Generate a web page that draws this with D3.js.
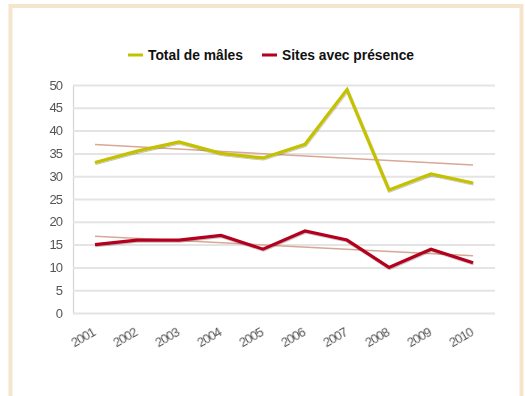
<!DOCTYPE html>
<html>
<head>
<meta charset="utf-8">
<script src="https://cdn.jsdelivr.net/npm/d3@7"></script>
<style>
  html, body { margin: 0; padding: 0; background: #ffffff; }
  svg { display: block; }
</style>
</head>
<body>
<svg id="chart" width="525" height="396"></svg>
<script>
// Annual counts, 2001–2010
const years = ["2001","2002","2003","2004","2005","2006","2007","2008","2009","2010"];
const totalMales = [33, 35.5, 37.5, 35, 34, 37, 49, 27, 30.5, 28.5];
const sitesPresence = [15, 16, 16, 17, 14, 18, 16, 10, 14, 11];
const yTicks = [0, 5, 10, 15, 20, 25, 30, 35, 40, 45, 50];
const seriesNames = ["Total de mâles", "Sites avec présence"];
const seriesColors = ["#c4c200", "#b3001f"];

const svg = d3.select("#chart");
const plot = { left: 73, right: 495, top: 85, bottom: 313 };

// frame
svg.append("rect")
  .attr("x", 10.5).attr("y", 6).attr("width", 511).attr("height", 400)
  .attr("fill", "#ffffff").attr("stroke", "#f4e5cc").attr("stroke-width", 4);

const x = d3.scaleBand().domain(years).range([plot.left + 1, plot.right - 1]);
const y = d3.scaleLinear().domain([0, 50]).range([plot.bottom, plot.top]);
const cx = d => x(d) + x.bandwidth() / 2;

const tickFont = "'Liberation Sans', Arial, sans-serif";

// gridlines and y labels
const yAxis = d3.axisLeft(y).tickValues(yTicks).tickSize(-(plot.right - plot.left)).tickPadding(11);
const gy = svg.append("g").attr("transform", `translate(${plot.left},0)`).call(yAxis);
gy.select(".domain").attr("stroke", "#d4d4d4").attr("stroke-width", 1.2);
gy.selectAll(".tick line").attr("stroke", "#e4e4e4").attr("stroke-width", 2);
gy.selectAll(".tick text")
  .attr("fill", "#555").attr("font-family", tickFont)
  .attr("font-size", 13).attr("letter-spacing", -1)
  .style("filter", "blur(0.35px)");

// x labels, slanted
const xAxis = d3.axisBottom(x).tickSize(0).tickPadding(0);
const gx = svg.append("g").attr("transform", `translate(0,${plot.bottom})`).call(xAxis);
gx.select(".domain").remove();
gx.selectAll(".tick text")
  .attr("fill", "#555").attr("font-family", tickFont)
  .attr("font-size", 13).attr("letter-spacing", -1)
  .attr("text-anchor", "end")
  .attr("dy", 0)
  .attr("transform", "translate(1,22) rotate(-30)")
  .style("filter", "blur(0.35px)");

// linear trend of a series
function trend(vals) {
  const n = vals.length;
  const xs = vals.map((_, i) => i + 1);
  const mx = d3.mean(xs), my = d3.mean(vals);
  const b = d3.sum(xs.map((xi, i) => (xi - mx) * (vals[i] - my))) / d3.sum(xs.map(xi => (xi - mx) ** 2));
  const a = my - b * mx;
  return [[years[0], a + b * 1], [years[n - 1], a + b * n]];
}

const line = d3.line().x(d => cx(d[0])).y(d => y(d[1]));

[totalMales, sitesPresence].forEach(vals => {
  svg.append("path").datum(trend(vals))
    .attr("d", line).attr("fill", "none")
    .attr("stroke", "#d9a796").attr("stroke-width", 1.5);
});

const defs = svg.append("defs");
defs.append("filter").attr("id", "shadow").attr("x", "-5%").attr("y", "-5%").attr("width", "110%").attr("height", "120%")
  .append("feDropShadow").attr("dx", 0.5).attr("dy", 1).attr("stdDeviation", 0.6)
  .attr("flood-color", "#000").attr("flood-opacity", 0.25);

[totalMales, sitesPresence].forEach((vals, k) => {
  svg.append("path").datum(years.map((yr, i) => [yr, vals[i]]))
    .attr("d", line).attr("fill", "none")
    .attr("stroke", seriesColors[k]).attr("stroke-width", 3.2)
    .attr("stroke-linejoin", "miter")
    .attr("filter", "url(#shadow)");
});

// legend
const legendItems = [
  { x: 128, w: 95, name: seriesNames[0], color: seriesColors[0] },
  { x: 262, w: 132, name: seriesNames[1], color: seriesColors[1] }
];
const lg = svg.append("g");
legendItems.forEach(it => {
  lg.append("line").attr("x1", it.x).attr("x2", it.x + 15).attr("y1", 55).attr("y2", 55)
    .attr("stroke", it.color).attr("stroke-width", 3);
  lg.append("text").attr("x", it.x + 20).attr("y", 60)
    .attr("font-family", "'Liberation Sans', Arial, sans-serif").attr("font-weight", "bold").attr("font-size", 14)
    .attr("textLength", it.w).attr("lengthAdjust", "spacingAndGlyphs")
    .attr("fill", "#111").text(it.name);
});
</script>
</body>
</html>
